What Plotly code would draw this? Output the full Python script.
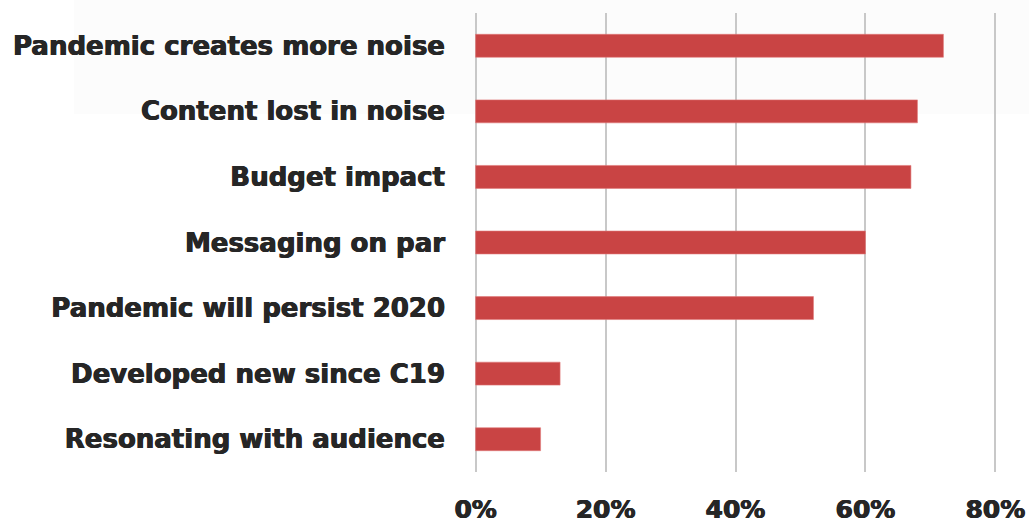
import plotly.graph_objects as go

# Survey responses, top to bottom
categories = [
    "Pandemic creates more noise",
    "Content lost in noise",
    "Budget impact",
    "Messaging on par",
    "Pandemic will persist 2020",
    "Developed new since C19",
    "Resonating with audience",
]
shares = [72, 68, 67, 60, 52, 13, 10]
x_ticks = [0, 20, 40, 60, 80]
x_tick_labels = ["0%", "20%", "40%", "60%", "80%"]

BAR_COLOR = "#c94444"
TEXT_COLOR = "#262626"
FONT = "DejaVu Sans"
HEAVY = "0.5px 0 0 #262626, -0.5px 0 0 #262626"

fig = go.Figure(
    go.Bar(
        y=categories,
        x=shares,
        orientation="h",
        width=0.35,
        marker=dict(color=BAR_COLOR, line=dict(color="#e07878", width=0.6)),
        hoverinfo="x+y",
    )
)

fig.update_layout(
    width=1029,
    height=523,
    margin=dict(l=473, r=31, t=13, b=51),
    paper_bgcolor="white",
    plot_bgcolor="rgba(0,0,0,0)",
    showlegend=False,
    font=dict(family=FONT, color=TEXT_COLOR),
    shapes=[
        # faint panel behind the top rows
        dict(type="rect", xref="paper", yref="paper", layer="below",
             x0=-0.76, x1=1.07, y0=0.78, y1=1.03,
             fillcolor="#fcfcfc", line=dict(width=0)),
    ],
)

fig.update_xaxes(
    range=[-0.4, 80.4],
    automargin=False,
    tickvals=x_ticks,
    ticktext=x_tick_labels,
    showgrid=True,
    gridcolor="#c8c8c8",
    gridwidth=2,
    zeroline=False,
    showline=False,
    ticks="",
    ticklabelstandoff=20,
    tickfont=dict(family=FONT, size=25, color=TEXT_COLOR, weight="bold", shadow=HEAVY),
)

fig.update_yaxes(
    categoryorder="array",
    categoryarray=categories[::-1],
    range=[-0.5, 6.5],
    automargin=False,
    showgrid=False,
    zeroline=False,
    showline=False,
    ticks="",
    ticklabelstandoff=27,
    tickfont=dict(family=FONT, size=26, color=TEXT_COLOR, weight="bold", shadow=HEAVY),
)

fig.write_html("out.html")
